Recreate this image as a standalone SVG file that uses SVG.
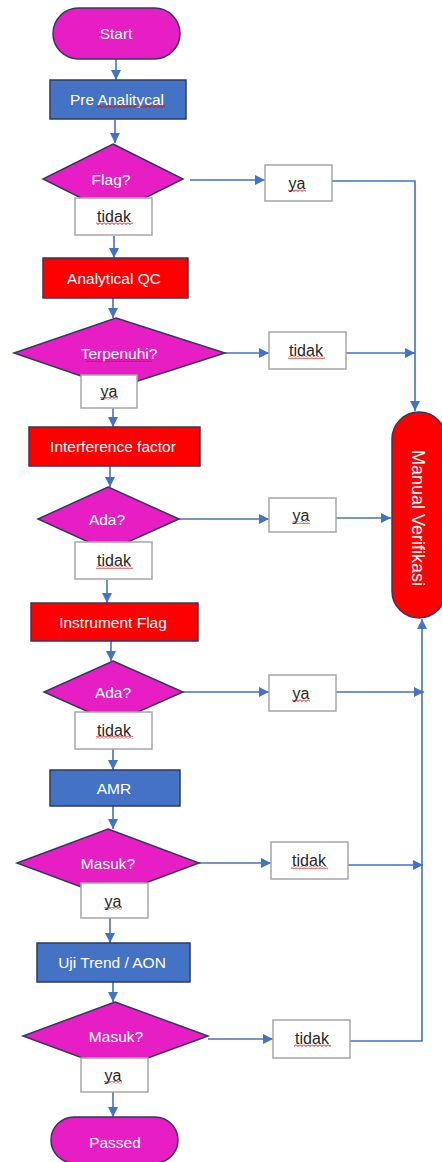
<svg xmlns="http://www.w3.org/2000/svg" width="442" height="1162" viewBox="0 0 442 1162">
<style>
.term{fill:#E61EC3;stroke:#2F3B5C;stroke-width:1.5}
.blue{fill:#4472C4;stroke:#2F3B5C;stroke-width:1.5}
.red{fill:#FF0000;stroke:#2F3B5C;stroke-width:1.5}
.dia{fill:#E61EC3;stroke:#2F3B5C;stroke-width:1.5}
.lbl{fill:#FFFFFF;stroke:#A6A6A6;stroke-width:1.5}
.wt{fill:#FFFFFF;font-family:"Liberation Sans",Arial,sans-serif;font-size:15.5px;text-anchor:middle;dominant-baseline:central}
.bt{fill:#262626;font-family:"Liberation Sans",Arial,sans-serif;font-size:16px;text-anchor:middle;dominant-baseline:central}
.mv{fill:#FFFFFF;font-family:"Liberation Sans",Arial,sans-serif;font-size:18px;text-anchor:middle;dominant-baseline:central}
.c{fill:none;stroke:#4472C4;stroke-width:1.6}
.sq{fill:url(#wave)}
</style>
<defs>
<marker id="ah" markerUnits="userSpaceOnUse" markerWidth="10" markerHeight="10" refX="10" refY="5" orient="auto">
<path d="M0,0 L10,5 L0,10 z" fill="#4472C4"/>
</marker>
<pattern id="wave" patternUnits="userSpaceOnUse" x="0" y="0" width="4" height="3">
<path d="M0,0.5 L2,2.5 L4,0.5" fill="none" stroke="#E00000" stroke-width="1"/>
</pattern>
</defs>

<g id="connectors">
<path class="c" d="M116,59 V80" marker-end="url(#ah)"/>
<path class="c" d="M115,120 V143" marker-end="url(#ah)"/>
<path class="c" d="M190,180 H265" marker-end="url(#ah)"/>
<path class="c" d="M332,181 H415 V411" marker-end="url(#ah)"/>
<path class="c" d="M114,236 V258" marker-end="url(#ah)"/>
<path class="c" d="M113,298 V318" marker-end="url(#ah)"/>
<path class="c" d="M225,353 H269" marker-end="url(#ah)"/>
<path class="c" d="M346,353 H415" marker-end="url(#ah)"/>
<path class="c" d="M113,408 V427" marker-end="url(#ah)"/>
<path class="c" d="M110,466 V487" marker-end="url(#ah)"/>
<path class="c" d="M179,519 H269" marker-end="url(#ah)"/>
<path class="c" d="M336,518 H391" marker-end="url(#ah)"/>
<path class="c" d="M107,580 V603" marker-end="url(#ah)"/>
<path class="c" d="M111,641 V661" marker-end="url(#ah)"/>
<path class="c" d="M183,692 H269" marker-end="url(#ah)"/>
<path class="c" d="M336,692 H424" marker-end="url(#ah)"/>
<path class="c" d="M113,749 V770" marker-end="url(#ah)"/>
<path class="c" d="M113,806 V829" marker-end="url(#ah)"/>
<path class="c" d="M199,863 H271" marker-end="url(#ah)"/>
<path class="c" d="M348,865 H423" marker-end="url(#ah)"/>
<path class="c" d="M110,918 V943" marker-end="url(#ah)"/>
<path class="c" d="M113,982 V1002" marker-end="url(#ah)"/>
<path class="c" d="M208,1039 H273" marker-end="url(#ah)"/>
<path class="c" d="M350,1041 H422 V619" marker-end="url(#ah)"/>
<path class="c" d="M113,1092 V1117" marker-end="url(#ah)"/>
</g>

<g id="start">
<rect class="term" x="53" y="8" width="127" height="51" rx="25.5"/>
<text class="wt" x="116" y="33">Start</text>
</g>

<g id="pre-analitycal">
<rect class="blue" x="50" y="80" width="136" height="39"/>
<text class="wt" x="117" y="99">Pre Analitycal</text>
<rect class="sq" x="97" y="105" width="68" height="3"/>
</g>

<g id="flag">
<polygon class="dia" points="113,144 183,179 113,214 43,179"/>
<text class="wt" x="111" y="179">Flag?</text>
</g>

<g id="flag-tidak">
<rect class="lbl" x="75" y="198" width="77" height="37"/>
<text class="bt" x="114" y="216">tidak</text>
<rect class="sq" x="96" y="222" width="37" height="3"/>
</g>

<g id="flag-ya">
<rect class="lbl" x="265" y="165" width="67" height="36"/>
<text class="bt" x="297" y="183">ya</text>
<rect class="sq" x="288" y="189" width="18" height="3"/>
</g>

<g id="analytical-qc">
<rect class="red" x="43" y="258" width="145" height="40"/>
<text class="wt" x="114" y="278">Analytical QC</text>
</g>

<g id="terpenuhi">
<polygon class="dia" points="116,318 225,353 116,388 14,353"/>
<text class="wt" x="119" y="353">Terpenuhi?</text>
<rect class="sq" x="86" y="359" width="66" height="3"/>
</g>

<g id="terpenuhi-tidak">
<rect class="lbl" x="269" y="332" width="77" height="37"/>
<text class="bt" x="306" y="350">tidak</text>
<rect class="sq" x="288" y="356" width="37" height="3"/>
</g>

<g id="terpenuhi-ya">
<rect class="lbl" x="81" y="375" width="56" height="33"/>
<text class="bt" x="109" y="391">ya</text>
<rect class="sq" x="100" y="397" width="18" height="3"/>
</g>

<g id="interference-factor">
<rect class="red" x="29" y="427" width="171" height="39"/>
<text class="wt" x="113" y="446">Interference factor</text>
</g>

<g id="ada-1">
<polygon class="dia" points="108,487 179,519 108,551 38,519"/>
<text class="wt" x="107" y="519">Ada?</text>
</g>

<g id="ada-1-tidak">
<rect class="lbl" x="75" y="542" width="77" height="37"/>
<text class="bt" x="114" y="560">tidak</text>
<rect class="sq" x="96" y="566" width="37" height="3"/>
</g>

<g id="ada-1-ya">
<rect class="lbl" x="269" y="498" width="67" height="34"/>
<text class="bt" x="301" y="515">ya</text>
<rect class="sq" x="292" y="521" width="18" height="3"/>
</g>

<g id="instrument-flag">
<rect class="red" x="31" y="603" width="167" height="38"/>
<text class="wt" x="113" y="622">Instrument Flag</text>
</g>

<g id="ada-2">
<polygon class="dia" points="113,661 183,692 113,723 44,692"/>
<text class="wt" x="113" y="692">Ada?</text>
</g>

<g id="ada-2-tidak">
<rect class="lbl" x="75" y="712" width="77" height="37"/>
<text class="bt" x="114" y="730">tidak</text>
<rect class="sq" x="96" y="736" width="37" height="3"/>
</g>

<g id="ada-2-ya">
<rect class="lbl" x="269" y="675" width="67" height="36"/>
<text class="bt" x="301" y="693">ya</text>
<rect class="sq" x="292" y="699" width="18" height="3"/>
</g>

<g id="amr">
<rect class="blue" x="50" y="770" width="130" height="36"/>
<text class="wt" x="114" y="788">AMR</text>
</g>

<g id="masuk-1">
<polygon class="dia" points="108,829 199,863 108,897 17,863"/>
<text class="wt" x="108" y="863">Masuk?</text>
</g>

<g id="masuk-1-ya">
<rect class="lbl" x="81" y="883" width="67" height="35"/>
<text class="bt" x="113" y="901">ya</text>
<rect class="sq" x="104" y="907" width="18" height="3"/>
</g>

<g id="masuk-1-tidak">
<rect class="lbl" x="271" y="842" width="77" height="37"/>
<text class="bt" x="309" y="860">tidak</text>
<rect class="sq" x="291" y="866" width="37" height="3"/>
</g>

<g id="uji-trend">
<rect class="blue" x="37" y="943" width="153" height="39"/>
<text class="wt" x="112" y="962">Uji Trend / AON</text>
</g>

<g id="masuk-2">
<polygon class="dia" points="115,1002 208,1036 115,1070 23,1036"/>
<text class="wt" x="116" y="1036">Masuk?</text>
</g>

<g id="masuk-2-ya">
<rect class="lbl" x="81" y="1058" width="67" height="34"/>
<text class="bt" x="113" y="1075">ya</text>
<rect class="sq" x="104" y="1081" width="18" height="3"/>
</g>

<g id="masuk-2-tidak">
<rect class="lbl" x="273" y="1020" width="77" height="38"/>
<text class="bt" x="312" y="1038">tidak</text>
<rect class="sq" x="294" y="1044" width="37" height="3"/>
</g>

<g id="passed">
<rect class="term" x="51" y="1117" width="127" height="46" rx="23"/>
<text class="wt" x="115" y="1142">Passed</text>
</g>

<g id="manual-verifikasi">
<rect class="red" x="392" y="412" width="54" height="206" rx="27"/>
<text class="mv" transform="translate(418,518) rotate(90)" x="0" y="0">Manual Verifikasi</text>
</g>
</svg>
